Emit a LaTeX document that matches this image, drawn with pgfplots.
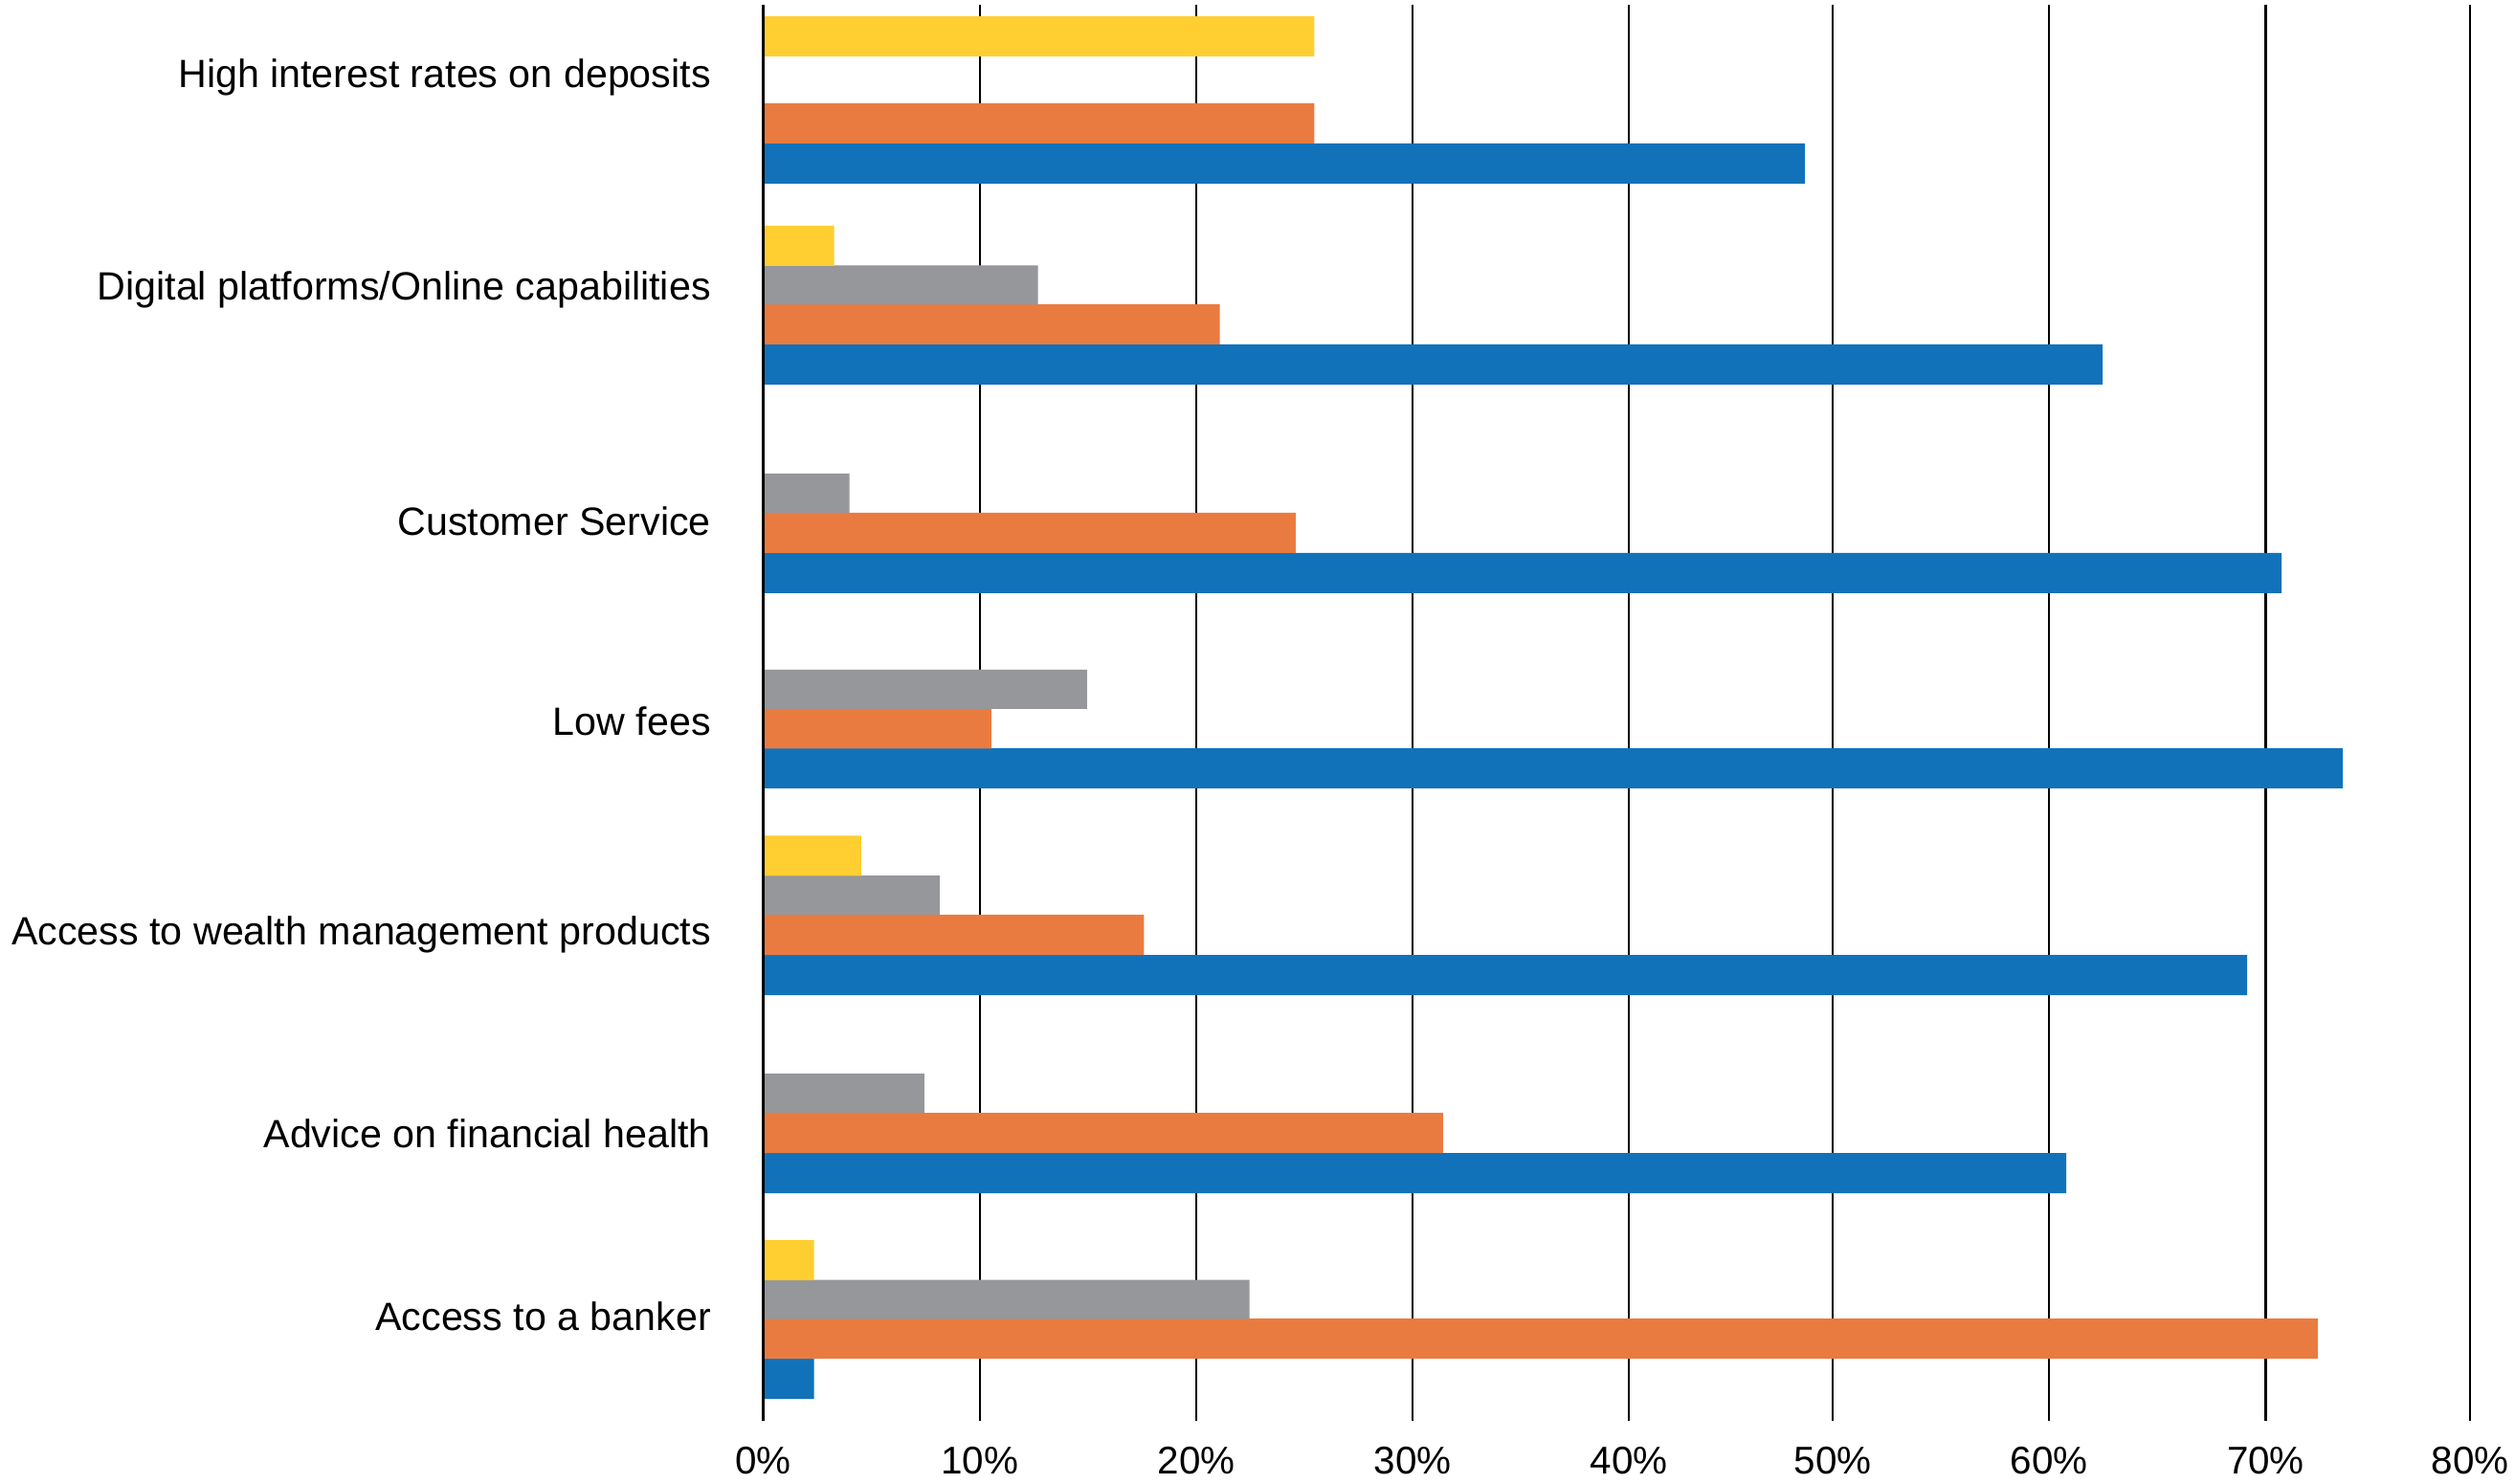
\documentclass[border=0pt]{standalone}
\usepackage{pgfplots}
\pgfplotsset{compat=1.18}
\usepackage{fontspec}
\setmainfont{Liberation Sans}
\definecolor{cblue}{RGB}{17,114,186}
\definecolor{corange}{RGB}{234,123,64}
\definecolor{cgray}{RGB}{150,151,155}
\definecolor{cyellow}{RGB}{255,206,49}
\begin{document}
\begin{tikzpicture}
\useasboundingbox (-199.4pt,-16.5pt) rectangle (457.6pt,371.25pt);
\begin{axis}[
  at={(0,0)}, anchor=south west,
  scale only axis,
  width=445.9pt, height=370pt,
  xmin=0, xmax=78.85,
  ymin=5, ymax=1485,
  y dir=reverse,
  axis x line*=bottom, axis y line*=left,
  x axis line style={draw=none},
  y axis line style={draw=none},
  major tick length=0pt,
  xtick={0,10,20,30,40,49.4,59.4,69.4},
  xticklabels={0\%,10\%,20\%,30\%,40\%,50\%,60\%,70\%},
  extra x ticks={78.85},
  extra x tick labels={80\%},
  extra x tick style={grid style={line width=0.6pt, black!70}},
  xmajorgrids,
  major grid style={line width=0.55pt, black},
  xticklabel style={anchor=north, inner sep=0pt, yshift=-6.5pt, font=\fontsize{10.1}{12}\selectfont},
  ytick={80.5,303,545,754,977,1185,1376},
  yticklabels={High interest rates on deposits,Digital platforms/Online capabilities,Customer Service,Low fees,Access to wealth management products,Advice on financial health,Access to a banker},
  yticklabel style={anchor=east, inner sep=0pt, xshift=-13.5pt, font=\fontsize{10.3}{12}\selectfont},
  /pgf/number format/assume math mode=true,
  clip=false,
]
\addplot[xbar, bar shift=0pt, bar width=42, fill=cblue, draw=none] coordinates {(48.11,171) (61.87,381) (70.14,599) (72.97,803) (68.55,1019) (60.19,1226) (2.34,1441)};
\addplot[xbar, bar shift=0pt, bar width=42, fill=corange, draw=none] coordinates {(25.46,129) (21.09,339) (24.59,557) (10.53,761.5) (17.59,977) (31.40,1184) (71.81,1399)};
\addplot[xbar, bar shift=0pt, bar width=41, fill=cgray, draw=none] coordinates {(12.69,298) (3.98,515.5) (14.95,720.5) (8.15,935.5) (7.44,1142.5) (22.46,1358)};
\addplot[xbar, bar shift=0pt, bar width=42, fill=cyellow, draw=none] coordinates {(25.46,38) (3.27,257) (4.52,894.5) (2.34,1317)};
\addplot[black, line width=0.9pt, mark=none] coordinates {(0,5) (0,1485)};
\end{axis}
\end{tikzpicture}
\end{document}
